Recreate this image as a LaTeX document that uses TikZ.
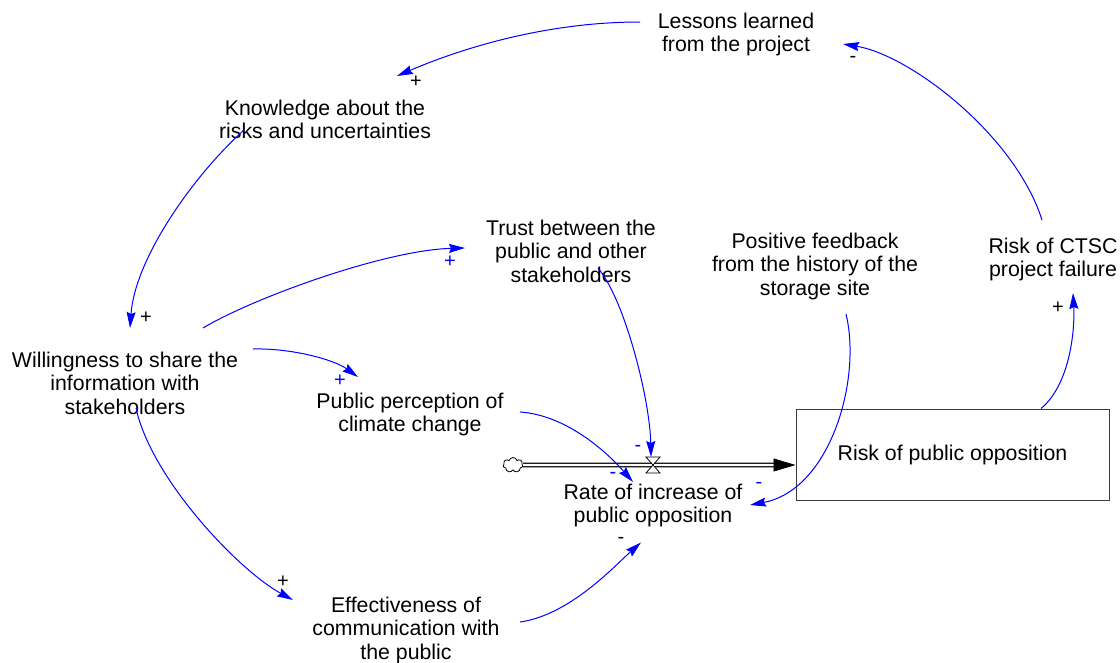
\documentclass[tikz,border=0pt]{standalone}
\usepackage{fontspec}
\setmainfont{Liberation Sans}
\usetikzlibrary{arrows.meta,shapes.symbols}
\definecolor{linkblue}{RGB}{0,0,255}
\definecolor{boxgray}{RGB}{60,60,60}
\begin{document}
\begin{tikzpicture}[x=1pt,y=-1pt,
  var/.style={align=center,inner sep=0pt,font=\fontsize{21.3}{23.5}\selectfont},
  link/.style={draw=linkblue,line width=1pt,-{Stealth[length=16pt,width=9pt,inset=2pt]}},
  sgnk/.style={inner sep=0pt,font=\fontsize{20}{20}\selectfont,text=black},
  sgnb/.style={inner sep=0pt,font=\fontsize{20}{20}\selectfont,text=linkblue},
  stock/.style={draw=boxgray,line width=1pt,minimum width=313pt,minimum height=91pt,inner sep=0pt,font=\fontsize{21.3}{23.5}\selectfont}]
\useasboundingbox (0,0) rectangle (1120,662);

% variables
\node[var] (L) at (736,34.5) {Lessons learned\\from the project};
\node[var] (K) at (325,119.5) {Knowledge about the\\risks and uncertainties};
\node[var] (W) at (125,383) {Willingness to share the\\information with\\stakeholders};
\node[var] (T) at (571,251) {Trust between the\\public and other\\stakeholders};
\node[var] (P) at (815,266) {Positive feedback\\from the history of the\\storage site};
\node[var] (C) at (1053,259.5) {Risk of CTSC\\project failure};
\node[var] (PP) at (410,414.5) {Public perception of\\climate change};
\node[var] (R) at (653,505.5) {Rate of increase of\\public opposition};
\node[var] (E) at (406,630) {Effectiveness of\\communication with\\the public};
\node[stock] (B) at (952.5,454.5) {Risk of public opposition};

% flow
\node[cloud,cloud puffs=7,draw=black,line width=0.8pt,minimum width=20pt,minimum height=15pt,inner sep=0pt,fill=white] (cl) at (513,465) {};
\coordinate (valve) at (653,465);
\coordinate (pipeend) at (B.west |- valve);
\draw[line width=1.3pt,double=white,double distance=2.2pt] (cl.east) -- ([xshift=-20]pipeend);
\draw[line width=0.6pt,-{Triangle[length=22pt,width=13pt]}] ([xshift=-21]pipeend) -- (pipeend);
\draw[line width=0.8pt,fill=white] ([shift={(-7,-8)}]valve) -- ([shift={(7,-8)}]valve) -- ([shift={(-7,8)}]valve) -- ([shift={(7,8)}]valve) -- cycle;

% links
\draw[link] ([shift={(-96,-12.5)}]L.center) .. controls +(-90,0) and +(70,-30) .. ([shift={(72,-43.5)}]K.center);
\draw[link] ([shift={(-81,10.5)}]K.center) .. controls +(-50,45) and +(5,-70) .. ([shift={(5,-55)}]W.center);
\draw[link] ([shift={(78,-55)}]W.center) .. controls +(50,-30) and +(-80,2) .. ([shift={(-106,-3)}]T.center);
\draw[link] ([shift={(128,-34)}]W.center) .. controls +(37,-1) and +(-25,-18) .. ([shift={(-52,-37.5)}]PP.center);
\draw[link] ([shift={(11,25)}]W.center) .. controls +(15,70) and +(-55,-30) .. ([shift={(-113,-30)}]E.center);
\draw[link] ([shift={(27,17)}]T.center) .. controls +(27,32) and +(-1,-57) .. ([shift={(-2,-8)}]valve);
\draw[link] ([shift={(110,-2.5)}]PP.center) .. controls +(45,3) and +(-28,-32) .. ([shift={(-20,-23.5)}]R.center);
\draw[link] ([shift={(31,48)}]P.center) .. controls +(16,66) and +(80,-15) .. ([shift={(97,-0.5)}]R.center);
\draw[link] ([shift={(114,-8)}]E.center) .. controls +(50,-7) and +(-26,23) .. ([shift={(-12,37)}]R.center);
\draw[link] ([shift={(88.5,0)}]B.north) .. controls +(29,-24) and +(2,37) .. ([shift={(20,33.5)}]C.center);
\draw[link] ([shift={(-11,-39.5)}]C.center) .. controls +(-27,-85) and +(67,11) .. ([shift={(107,9.5)}]L.center);

% polarities
\node[sgnk] (s1) at (416,82) {+};
\node[sgnk] (s2) at (146,318) {+};
\node[sgnb] (s3) at (450,262) {+};
\node[sgnb] (s4) at (340,381) {+};
\node[sgnk] (s5) at (283,582) {+};
\node[sgnb] (s6) at (638,448) {-};
\node[sgnb] (s7) at (613,475) {-};
\node[sgnb] (s8) at (759,485) {-};
\node[sgnk] (s9) at (621,540) {-};
\node[sgnk] (s10) at (1058,308) {+};
\node[sgnk] (s11) at (853,59) {-};
\end{tikzpicture}
\end{document}
